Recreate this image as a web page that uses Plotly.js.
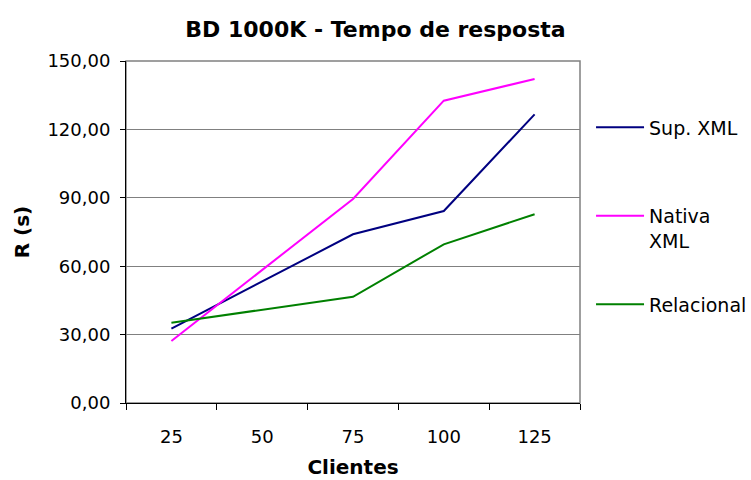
<!DOCTYPE html>
<html><head><meta charset="utf-8">
<script src="https://cdn.plot.ly/plotly-3.0.1.min.js"></script>
<style>body{margin:0;background:#fff}#c{width:751px;height:480px}</style>
</head><body><div id="c"></div>
<script>
const clientes = ['25', '50', '75', '100', '125'];
const supXML = [32.6, 53.3, 74.0, 84.2, 126.6];
const nativaXML = [27.2, 58.5, 89.5, 132.6, 142.1];
const relacional = [35.2, 41.0, 46.6, 69.6, 82.8];
const yTicks = [0, 30, 60, 90, 120, 150];
const seriesNames = ['Sup. XML<br>&nbsp;', 'Nativa<br>XML', 'Relacional'];

const font = 'DejaVu Sans, Arial, sans-serif';
const traces = [
  {x: clientes, y: supXML, name: seriesNames[0], color: '#000080', g: 'a'},
  {x: clientes, y: nativaXML, name: seriesNames[1], color: '#ff00ff', g: 'b'},
  {x: clientes, y: relacional, name: seriesNames[2], color: '#008000', g: 'c'}
].map(t => ({x: t.x, y: t.y, name: t.name, type: 'scatter', mode: 'lines',
  legendgroup: t.g, line: {color: t.color, width: 2}}));

const layout = {
  width: 751, height: 480,
  margin: {l: 126, r: 171, t: 61, b: 77},
  paper_bgcolor: '#fff', plot_bgcolor: '#fff',
  separators: ',.',
  font: {family: font, size: 18, color: '#000'},
  title: {text: '<b>BD 1000K - Tempo de resposta</b>', x: 0.5, xanchor: 'center', y: 0.94, yanchor: 'middle',
    font: {family: font, size: 22}},
  xaxis: {type: 'category', range: [-0.5, 4.5],
    title: {text: '<b>Clientes</b>', font: {size: 20}, standoff: 14},
    showline: true, linecolor: '#000', linewidth: 1,
    ticks: 'outside', tickson: 'boundaries', ticklen: 6, tickcolor: '#000',
    ticklabelstandoff: 17,
    showgrid: false, zeroline: false},
  yaxis: {range: [0, 150], tickvals: yTicks, tickformat: '.2f',
    title: {text: '<b>R (s)</b>', font: {size: 20}, standoff: 12},
    showline: true, linecolor: '#000', linewidth: 1,
    ticks: 'outside', ticklen: 5, tickcolor: '#000',
    ticklabelstandoff: 6,
    showgrid: true, gridcolor: '#808080', gridwidth: 1, zeroline: false},
  shapes: [{type: 'rect', xref: 'paper', yref: 'paper', x0: 0, x1: 1, y0: 0, y1: 1,
    line: {color: '#808080', width: 1.5}, layer: 'below'}],
  legend: {xref: 'container', yref: 'container', x: 0.787, xanchor: 'left', y: 0.774, yanchor: 'top',
    traceorder: 'grouped', tracegroupgap: 36, itemwidth: 48, font: {size: 19},
    bgcolor: 'rgba(0,0,0,0)', valign: 'top'},
  showlegend: true
};
Plotly.newPlot('c', traces, layout, {displayModeBar: false, staticPlot: true});
</script></body></html>
